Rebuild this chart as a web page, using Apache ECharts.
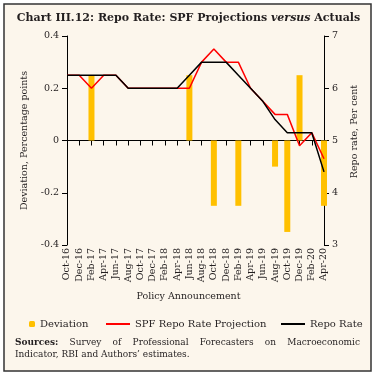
<!DOCTYPE html>
<html>
<head>
<meta charset="utf-8">
<script src="https://cdn.jsdelivr.net/npm/echarts@6/dist/echarts.min.js"></script>
<style>
  html, body { margin: 0; padding: 0; background: #fff; }
  #chart { width: 377px; height: 375px; }
</style>
</head>
<body>
<div id="chart"></div>
<script>
// policy meetings, bimonthly
const categories = ['Oct-16', 'Dec-16', 'Feb-17', 'Apr-17', 'Jun-17', 'Aug-17', 'Oct-17', 'Dec-17',
  'Feb-18', 'Apr-18', 'Jun-18', 'Aug-18', 'Oct-18', 'Dec-18', 'Feb-19', 'Apr-19', 'Jun-19',
  'Aug-19', 'Oct-19', 'Dec-19', 'Feb-20', 'Apr-20'];
const deviation = [0, 0, 0.25, 0, 0, 0, 0, 0, 0, 0, 0.25, 0, -0.25, 0, -0.25, 0, 0, -0.10, -0.35, 0.25, 0, -0.25];
const spfProjection = [6.25, 6.25, 6.00, 6.25, 6.25, 6.00, 6.00, 6.00, 6.00, 6.00, 6.00, 6.50, 6.75, 6.50,
  6.50, 6.00, 5.75, 5.50, 5.50, 4.90, 5.15, 4.65];
const repoRate = [6.25, 6.25, 6.25, 6.25, 6.25, 6.00, 6.00, 6.00, 6.00, 6.00, 6.25, 6.50, 6.50, 6.50,
  6.25, 6.00, 5.75, 5.40, 5.15, 5.15, 5.15, 4.40];
const sourceWords = ['Sources:', 'Survey', 'of', 'Professional', 'Forecasters', 'on', 'Macroeconomic'];
const sourceLine2 = 'Indicator, RBI and Authors\u2019 estimates.';

const FONT = 'DejaVu Serif';
const INK = '#231f20';

// spread the first sources line across the box, like the justified original
function justifiedWords(words, x0, x1, y) {
  const ctx = document.createElement('canvas').getContext('2d');
  const fonts = words.map((w, i) => (i === 0 ? 'bold ' : '') + '9px "' + FONT + '"');
  const widths = words.map((w, i) => { ctx.font = fonts[i]; return ctx.measureText(w).width; });
  const total = widths.reduce((a, b) => a + b, 0);
  const gap = (x1 - x0 - total) / (words.length - 1);
  let x = x0;
  return words.map((w, i) => {
    const el = {
      type: 'text', left: x, top: y,
      style: { text: w, font: fonts[i], fill: INK }
    };
    x += widths[i] + gap;
    return el;
  });
}

const chart = echarts.init(document.getElementById('chart'));
const option = {
  backgroundColor: '#fff',
  animation: false,
  title: {
    text: '{b|Chart III.12: Repo Rate: SPF Projections }{i|versus}{b| Actuals}',
    left: 'center',
    top: 8,
    textStyle: {
      rich: {
        b: { fontFamily: FONT, fontWeight: 'bold', fontSize: 11, color: INK },
        i: { fontFamily: FONT, fontWeight: 'bold', fontStyle: 'italic', fontSize: 11, color: INK }
      }
    }
  },
  graphic: [
    {
      type: 'rect', z: -10, silent: true,
      shape: { x: 4, y: 4, width: 367, height: 367 },
      style: { fill: '#fcf6ec', stroke: '#333', lineWidth: 1.5 }
    },
    {
      type: 'text', left: 'center', top: 292,
      style: { text: 'Policy Announcement', font: '9.5px "' + FONT + '"', fill: INK }
    },
    ...justifiedWords(sourceWords, 15, 360, 338),
    {
      type: 'text', left: 15, top: 350,
      style: { text: sourceLine2, font: '9px "' + FONT + '"', fill: INK }
    }
  ],
  legend: [
    {
      data: ['Deviation'], left: 24, top: 314, itemWidth: 6, itemHeight: 6, itemGap: 4,
      textStyle: { fontFamily: FONT, fontSize: 10, color: INK }
    },
    {
      data: [{ name: 'SPF Repo Rate Projection', icon: 'rect' }], left: 101, top: 314,
      itemWidth: 24, itemHeight: 2,
      textStyle: { fontFamily: FONT, fontSize: 10, color: INK }
    },
    {
      data: [{ name: 'Repo Rate', icon: 'rect' }], left: 276, top: 314,
      itemWidth: 24, itemHeight: 2,
      textStyle: { fontFamily: FONT, fontSize: 10, color: INK }
    }
  ],
  grid: { left: 67, right: 53, top: 36, bottom: 130 },
  xAxis: [
    {
      type: 'category',
      data: categories,
      boundaryGap: false,
      position: 'bottom',
      axisLine: { show: false, onZero: false },
      axisTick: { show: false },
      axisLabel: { rotate: 90, interval: 0, margin: 3, fontFamily: FONT, fontSize: 9.5, color: INK }
    },
    {
      type: 'category',
      data: categories,
      boundaryGap: false,
      position: 'top',
      axisLine: { onZero: true, onZeroAxisIndex: 0, lineStyle: { color: '#000', width: 1 } },
      axisTick: { inside: true, length: 5, interval: 0, lineStyle: { color: '#000' } },
      axisLabel: { show: false }
    }
  ],
  yAxis: [
    {
      type: 'value', min: -0.4, max: 0.4, interval: 0.2,
      name: 'Deviation, Percentage points', nameLocation: 'middle', nameGap: 28, nameRotate: 90,
      nameTextStyle: { fontFamily: FONT, fontSize: 9.5, color: INK },
      axisLine: { show: true, lineStyle: { color: '#000' } },
      axisTick: { show: true, length: 5, lineStyle: { color: '#000' } },
      axisLabel: { margin: 8, fontFamily: FONT, fontSize: 9.5, color: INK },
      splitLine: { show: false }
    },
    {
      type: 'value', min: 3, max: 7, interval: 1, position: 'right',
      name: 'Repo rate, Per cent', nameLocation: 'middle', nameGap: 26, nameRotate: 90,
      nameTextStyle: { fontFamily: FONT, fontSize: 9.5, color: INK, padding: [0, 0, 0, 18] },
      axisLine: { show: true, lineStyle: { color: '#000' } },
      axisTick: { show: true, length: 5, lineStyle: { color: '#000' } },
      axisLabel: { margin: 8, fontFamily: FONT, fontSize: 9.5, color: INK },
      splitLine: { show: false }
    }
  ],
  series: [
    {
      name: 'Deviation',
      type: 'bar',
      yAxisIndex: 0,
      data: deviation,
      barWidth: 6,
      itemStyle: { color: '#ffc000' }
    },
    {
      name: 'SPF Repo Rate Projection',
      type: 'line',
      yAxisIndex: 1,
      data: spfProjection,
      showSymbol: false,
      lineStyle: { color: '#ff0000', width: 1.5 },
      itemStyle: { color: '#ff0000' }
    },
    {
      name: 'Repo Rate',
      type: 'line',
      yAxisIndex: 1,
      data: repoRate,
      showSymbol: false,
      lineStyle: { color: '#000', width: 1.5 },
      itemStyle: { color: '#000' }
    }
  ]
};
chart.setOption(option);
</script>
</body>
</html>
